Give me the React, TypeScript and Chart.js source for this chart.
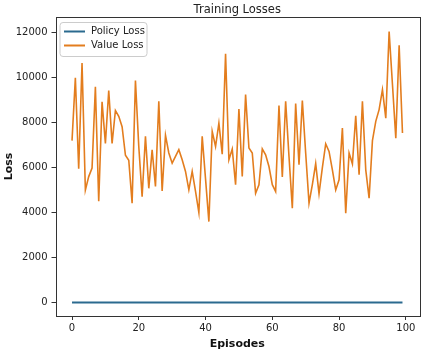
import React, { useEffect, useRef } from 'react';
import { Chart, registerables } from 'chart.js';

Chart.register(...registerables);

const valueLoss: number[] = [
  7200, 10000, 5950, 10650, 5000, 5600, 5980, 9600, 4500, 8930,
  7080, 9430, 7080, 8540, 8280, 7820, 6550, 6330, 4420, 9870,
  6940, 4710, 7390, 5080, 6790, 5160, 8950, 4960, 7440, 6650,
  6200, 6500, 6800, 6350, 5830, 5010, 5830, 4940, 4000, 7390,
  5500, 3600, 7610, 6940, 7980, 6600, 11060, 6350, 6830, 5240,
  8610, 5610, 9250, 6870, 6650, 4860, 5240, 6830, 6570, 6050,
  5240, 4940, 8760, 5580, 8950, 6500, 4190, 8850, 6130, 8980,
  6650, 4420, 5240, 6180, 4840, 6000, 7060, 6720, 5900, 5010,
  5460, 7760, 3970, 6650, 6170, 8310, 5680, 8950, 5900, 4640,
  7200, 8060, 8580, 9470, 8200, 12050, 9700, 7310, 11440, 7540,
];

const policyLoss: number[] = [
  0, 0, 0, 0, 0, 0, 0, 0, 0, 0,
  0, 0, 0, 0, 0, 0, 0, 0, 0, 0,
  0, 0, 0, 0, 0, 0, 0, 0, 0, 0,
  0, 0, 0, 0, 0, 0, 0, 0, 0, 0,
  0, 0, 0, 0, 0, 0, 0, 0, 0, 0,
  0, 0, 0, 0, 0, 0, 0, 0, 0, 0,
  0, 0, 0, 0, 0, 0, 0, 0, 0, 0,
  0, 0, 0, 0, 0, 0, 0, 0, 0, 0,
  0, 0, 0, 0, 0, 0, 0, 0, 0, 0,
  0, 0, 0, 0, 0, 0, 0, 0, 0, 0,
];

const episodes: number[] = valueLoss.map((_, i) => i);
const xTicks = [0, 20, 40, 60, 80, 100];
const yTicks = [0, 2000, 4000, 6000, 8000, 10000, 12000];
const seriesNames = ['Policy Loss', 'Value Loss'];
const seriesColors = ['#2b6a8f', '#e37d1e'];
const titleText = 'Training Losses';
const xLabel = 'Episodes';
const yLabel = 'Loss';

const FONT = "'DejaVu Sans', sans-serif";

const framePlugin = {
  id: 'frameAndLegend',
  afterDatasetsDraw(chart: any) {
    const { ctx, chartArea } = chart;
    const { left, top, right, bottom } = chartArea;
    ctx.save();
    // axes frame
    ctx.strokeStyle = '#333333';
    ctx.lineWidth = 1;
    ctx.strokeRect(Math.round(left) + 0.5, Math.round(top) + 0.5, Math.round(right - left), Math.round(bottom - top));

    // title centred over the plot area
    ctx.font = `11.5px ${FONT}`;
    ctx.fillStyle = '#222222';
    ctx.textAlign = 'center';
    ctx.textBaseline = 'middle';
    ctx.fillText(titleText, (left + right) / 2, top - 7);

    // legend
    const lx = left + 4.5;
    const ly = top + 5.5;
    const lw = 87;
    const lh = 34;
    const r = 3;
    ctx.beginPath();
    ctx.moveTo(lx + r, ly);
    ctx.lineTo(lx + lw - r, ly);
    ctx.quadraticCurveTo(lx + lw, ly, lx + lw, ly + r);
    ctx.lineTo(lx + lw, ly + lh - r);
    ctx.quadraticCurveTo(lx + lw, ly + lh, lx + lw - r, ly + lh);
    ctx.lineTo(lx + r, ly + lh);
    ctx.quadraticCurveTo(lx, ly + lh, lx, ly + lh - r);
    ctx.lineTo(lx, ly + r);
    ctx.quadraticCurveTo(lx, ly, lx + r, ly);
    ctx.closePath();
    ctx.fillStyle = 'rgba(255,255,255,0.85)';
    ctx.fill();
    ctx.strokeStyle = '#cccccc';
    ctx.stroke();

    ctx.font = `10px ${FONT}`;
    ctx.textBaseline = 'middle';
    ctx.textAlign = 'left';
    seriesNames.forEach((name, i) => {
      const y = ly + 9 + i * 14;
      ctx.strokeStyle = seriesColors[i];
      ctx.lineWidth = 2;
      ctx.beginPath();
      ctx.moveTo(lx + 4, y);
      ctx.lineTo(lx + 25, y);
      ctx.stroke();
      ctx.fillStyle = '#222222';
      ctx.fillText(name, lx + 31, y);
    });
    ctx.restore();
  },
};

export default function App() {
  const canvasRef = useRef<HTMLCanvasElement | null>(null);

  useEffect(() => {
    const canvas = canvasRef.current;
    if (!canvas) return;
    const chart = new Chart(canvas, {
      type: 'line',
      data: {
        datasets: [
          {
            label: seriesNames[0],
            data: episodes.map((x, i) => ({ x, y: policyLoss[i] })),
            borderColor: seriesColors[0],
            backgroundColor: seriesColors[0],
            borderWidth: 2,
            pointRadius: 0,
            tension: 0,
          },
          {
            label: seriesNames[1],
            data: episodes.map((x, i) => ({ x, y: valueLoss[i] })),
            borderColor: seriesColors[1],
            backgroundColor: seriesColors[1],
            borderWidth: 1.6,
            pointRadius: 0,
            tension: 0,
          },
        ],
      },
      options: {
        animation: false,
        responsive: false,
        devicePixelRatio: 1,
        layout: { padding: { left: 0, right: 12, top: 17, bottom: 0 } },
        plugins: {
          legend: { display: false },
          tooltip: { enabled: false },
          title: { display: false },
        },
        scales: {
          x: {
            type: 'linear',
            min: -4.95,
            max: 103.95,
            afterBuildTicks: (scale: any) => {
              scale.ticks = xTicks.map((v) => ({ value: v }));
            },
            afterFit: (scale: any) => {
              scale.height = 35;
            },
            border: { display: false },
            grid: { drawOnChartArea: false, drawTicks: true, tickLength: 4, color: '#333333' },
            ticks: {
              color: '#222222',
              font: { family: FONT, size: 10 },
              padding: 2,
              maxRotation: 0,
              callback: (v: any) => String(v),
            },
            title: {
              display: true,
              text: xLabel,
              color: '#111111',
              font: { family: FONT, size: 11, weight: 'bold' },
              padding: { top: 0, bottom: 0 },
            },
          },
          y: {
            type: 'linear',
            min: -600,
            max: 12700,
            afterBuildTicks: (scale: any) => {
              scale.ticks = yTicks.map((v) => ({ value: v }));
            },
            afterFit: (scale: any) => {
              scale.width = 55.5;
            },
            border: { display: false },
            grid: { drawOnChartArea: false, drawTicks: true, tickLength: 4, color: '#333333' },
            ticks: {
              color: '#222222',
              font: { family: FONT, size: 10 },
              padding: 4,
              callback: (v: any) => String(v),
            },
            title: {
              display: true,
              text: yLabel,
              color: '#111111',
              font: { family: FONT, size: 11, weight: 'bold' },
              padding: { top: 3, bottom: 0 },
            },
          },
        },
      },
      plugins: [framePlugin],
    });
    return () => chart.destroy();
  }, []);

  return (
    <div style={{ position: 'absolute', left: 0, top: 0, width: 431, height: 351, background: '#ffffff' }}>
      <canvas ref={canvasRef} width={431} height={351} />
    </div>
  );
}
